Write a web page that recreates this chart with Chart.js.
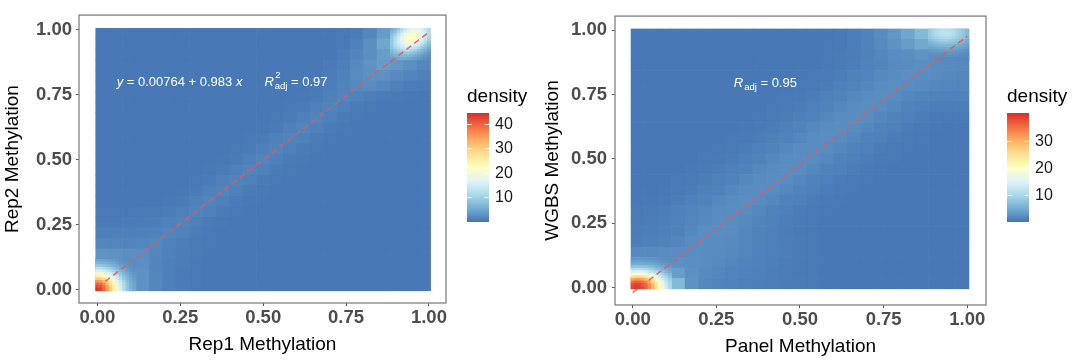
<!DOCTYPE html>
<html>
<head>
<meta charset="utf-8">
<script src="https://cdn.jsdelivr.net/npm/chart.js@4.4.1/dist/chart.umd.min.js"></script>
<style>
  body { margin: 0; background: #fff; }
  #wrap { display: flex; width: 1080px; height: 364px; }
  canvas { display: block; }
</style>
</head>
<body>
<div id="wrap">
  <canvas id="rep" width="540" height="364"></canvas>
  <canvas id="panel" width="540" height="364"></canvas>
</div>
<script>
// coarse grid: 25 x 25 bins covering -0.005 .. 1.005
const coarseStart = -0.005;
const coarseWidth = 0.0404;
// fine 12 x 12 grids for the two corners (1/4 of a coarse bin)
const fineWidth = 0.0101;
const lowCornerStart = -0.005;
const highCornerStart = 0.8838;

const axisTicks = [0, 0.25, 0.5, 0.75, 1];
const paletteStops = ['#4575b4', '#74add1', '#abd9e9', '#e0f3f8', '#ffffbf', '#fee090', '#fdae61', '#f46d43', '#d73027'];

// ---- Rep1 vs Rep2 ----
// rows listed top first (y ~ 1.00), columns left to right (x 0 -> 1)
const repDensity = [
  [0.3,0.3,0.3,0.3,0.3, 0.3,0.3,0.3,0.3,0.3, 0.3,0.3,0.3,0.3,0.3, 0.3,0.3,0.3,0.5,0.8, 1.8,3.8,8,15,15],
  [0.3,0.3,0.3,0.3,0.3, 0.3,0.3,0.3,0.3,0.3, 0.3,0.3,0.3,0.3,0.3, 0.3,0.3,0.3,0.6,1.2, 2.6,5.0,10,15,12],
  [0.3,0.3,0.3,0.3,0.3, 0.3,0.3,0.3,0.3,0.3, 0.3,0.3,0.3,0.3,0.3, 0.3,0.3,0.3,0.8,1.6, 2.6,4.0,10,10,6],
  [0.3,0.3,0.3,0.3,0.3, 0.3,0.3,0.3,0.3,0.3, 0.3,0.3,0.3,0.3,0.3, 0.3,0.3,0.6,1.0,2.0, 3.0,3.8,3.3,2.6,1.8],
  [0.3,0.3,0.3,0.3,0.3, 0.3,0.3,0.3,0.3,0.3, 0.3,0.3,0.3,0.3,0.3, 0.3,0.5,0.75,1.2,2.2, 2.8,2.8,2.1,1.6,1.2],
  [0.3,0.3,0.3,0.3,0.3, 0.3,0.3,0.3,0.3,0.3, 0.3,0.3,0.3,0.3,0.3, 0.4,0.6,0.9,1.5,2.0, 2.2,1.8,1.2,0.9,0.7],
  [0.3,0.3,0.3,0.3,0.3, 0.3,0.3,0.3,0.3,0.3, 0.3,0.3,0.3,0.3,0.35, 0.45,0.7,1.1,1.6,1.4, 1.0,0.7,0.55,0.45,0.4],
  [0.3,0.3,0.3,0.3,0.3, 0.3,0.3,0.3,0.3,0.3, 0.3,0.3,0.3,0.35,0.45, 0.7,1.1,1.5,1.1,0.7, 0.45,0.35,0.3,0.3,0.3],
  [0.3,0.3,0.3,0.3,0.3, 0.3,0.3,0.3,0.3,0.3, 0.3,0.3,0.35,0.45,0.7, 1.1,1.5,1.1,0.7,0.45, 0.35,0.3,0.3,0.3,0.3],
  [0.3,0.3,0.3,0.3,0.3, 0.3,0.3,0.3,0.3,0.3, 0.3,0.35,0.45,0.7,1.1, 1.5,1.1,0.7,0.45,0.35, 0.3,0.3,0.3,0.3,0.3],
  [0.3,0.3,0.3,0.3,0.3, 0.3,0.3,0.3,0.3,0.3, 0.35,0.45,0.7,1.1,1.5, 1.1,0.7,0.45,0.35,0.3, 0.3,0.3,0.3,0.3,0.3],
  [0.3,0.3,0.3,0.3,0.3, 0.3,0.3,0.3,0.3,0.35, 0.45,0.7,1.1,1.5,1.1, 0.7,0.45,0.35,0.3,0.3, 0.3,0.3,0.3,0.3,0.3],
  [0.3,0.3,0.3,0.3,0.3, 0.3,0.3,0.3,0.35,0.45, 0.7,1.1,1.5,1.1,0.7, 0.45,0.35,0.3,0.3,0.3, 0.3,0.3,0.3,0.3,0.3],
  [0.3,0.3,0.3,0.3,0.3, 0.3,0.3,0.35,0.45,0.7, 1.1,1.5,1.1,0.7,0.45, 0.35,0.3,0.3,0.3,0.3, 0.3,0.3,0.3,0.3,0.3],
  [0.3,0.3,0.3,0.3,0.3, 0.3,0.35,0.45,0.7,1.1, 1.5,1.1,0.7,0.45,0.35, 0.3,0.3,0.3,0.3,0.3, 0.3,0.3,0.3,0.3,0.3],
  [0.3,0.3,0.3,0.3,0.3, 0.35,0.45,0.7,1.1,1.5, 1.1,0.7,0.45,0.35,0.3, 0.3,0.3,0.3,0.3,0.3, 0.3,0.3,0.3,0.3,0.3],
  [0.3,0.3,0.3,0.3,0.35, 0.45,0.7,1.1,1.5,1.1, 0.7,0.45,0.35,0.3,0.3, 0.3,0.3,0.3,0.3,0.3, 0.3,0.3,0.3,0.3,0.3],
  [0.5,0.5,0.5,0.55,0.6, 0.75,1.1,1.5,1.1,0.7, 0.45,0.35,0.3,0.3,0.3, 0.3,0.3,0.3,0.3,0.3, 0.3,0.3,0.3,0.3,0.3],
  [0.7,0.7,0.75,0.8,0.9, 1.15,1.5,1.1,0.7,0.45, 0.35,0.3,0.3,0.3,0.3, 0.3,0.3,0.3,0.3,0.3, 0.3,0.3,0.3,0.3,0.3],
  [1.1,1.05,1.1,1.2,1.35, 1.6,1.15,0.75,0.5,0.35, 0.3,0.3,0.3,0.3,0.3, 0.3,0.3,0.3,0.3,0.3, 0.3,0.3,0.3,0.3,0.3],
  [1.8,1.7,1.6,1.7,1.9, 1.35,0.9,0.6,0.45,0.35, 0.3,0.3,0.3,0.3,0.3, 0.3,0.3,0.3,0.3,0.3, 0.3,0.3,0.3,0.3,0.3],
  [3.0,2.9,2.6,2.4,1.7, 1.2,0.8,0.55,0.4,0.35, 0.3,0.3,0.3,0.3,0.3, 0.3,0.3,0.3,0.3,0.3, 0.3,0.3,0.3,0.3,0.3],
  [3,3,3,2.6,1.6, 1.1,0.75,0.5,0.4,0.35, 0.3,0.3,0.3,0.3,0.3, 0.3,0.3,0.3,0.3,0.3, 0.3,0.3,0.3,0.3,0.3],
  [10,8,3,2.9,1.7, 1.05,0.7,0.5,0.4,0.35, 0.3,0.3,0.3,0.3,0.3, 0.3,0.3,0.3,0.3,0.3, 0.3,0.3,0.3,0.3,0.3],
  [40,10,3,3.0,1.8, 1.1,0.7,0.5,0.4,0.35, 0.3,0.3,0.3,0.3,0.3, 0.3,0.3,0.3,0.3,0.3, 0.3,0.3,0.3,0.3,0.3]
];
// fine corner near (0, 0), top row first
const repCornerLow = [
  [4.9,4.85,4.7,4.4,4.05,3.65,3.3,2.95,2.7,2.45,2.25,2.2],
  [6.5,6.4,6.2,5.8,5.3,4.7,4.1,3.55,3.1,2.75,2.45,2.25],
  [8.9,8.75,8.4,7.7,6.9,6.0,5.2,4.4,3.7,3.15,2.75,2.45],
  [12.2,12.0,11.4,10.4,9.1,7.9,6.5,5.5,4.5,3.7,3.1,2.7],
  [16,15.7,14.9,13.6,12.0,10.2,8.4,6.75,5.5,4.4,3.55,2.95],
  [20.2,19.9,18.9,17.2,15.2,12.9,10.6,8.4,6.5,5.2,4.1,3.3],
  [25,24.5,23.1,21.0,18.5,15.7,12.9,10.2,7.9,6.0,4.7,3.65],
  [29.8,29.2,27.5,25,21.8,18.5,15.2,12.0,9.1,6.9,5.3,4.05],
  [35.2,34.3,31.9,28.6,25,21.0,17.2,13.6,10.4,7.7,5.8,4.4],
  [39.6,38.5,36.0,31.9,27.5,23.1,18.9,14.9,11.4,8.4,6.2,4.7],
  [42.4,41.3,38.5,34.3,29.2,24.5,19.9,15.7,12.0,8.75,6.4,4.85],
  [44,42.4,39.6,35.2,29.8,25,20.2,16,12.2,8.9,6.5,4.9]
];
// fine corner near (1, 1), top row first
const repCornerHigh = [
  [5.4,7.1,9.1,11.7,14.0,16,17.2,17.6,17.1,15.9,13.9,11.5],
  [6.5,8.6,11.2,14.0,16.5,18.5,19.7,19.8,18.9,17.1,14.8,12.1],
  [7.6,10.05,13.0,16,18.5,20.5,21.6,21.5,19.8,17.6,15.0,12.0],
  [8.5,11.3,14.3,17.2,19.7,21.6,22,21.6,19.7,17.2,14.3,11.3],
  [9.0,12.0,15.0,17.6,19.8,21.5,21.6,20.5,18.5,16,13.0,10.05],
  [9.2,12.1,14.8,17.1,18.9,19.8,19.7,18.5,16.5,14.0,11.2,8.6],
  [8.95,11.5,13.9,15.9,17.1,17.6,17.2,16,14.0,11.7,9.1,7.1],
  [8.4,10.4,12.4,13.9,14.8,15.0,14.3,13.0,11.2,9.1,7.35,5.7],
  [7.5,8.9,10.4,11.5,12.1,12.0,11.3,10.05,8.6,7.1,5.7,4.4],
  [6.4,7.5,8.4,8.95,9.2,9.0,8.5,7.6,6.5,5.4,4.3,3.5],
  [5.3,6.1,6.6,7.0,7.1,6.85,6.3,5.7,4.8,4.05,3.3,2.8],
  [4.2,4.7,5.1,5.3,5.3,5.1,4.6,4.1,3.6,3.1,2.7,2.3]
];
const repFit = [{ x: 0, y: 0.00764 }, { x: 1, y: 0.9906 }];
const repLegendTicks = [10, 20, 30, 40];
const repDensityMax = 44.3;

// ---- Panel vs WGBS ----
const panelDensity = [
  [0.35,0.35,0.35,0.35,0.35, 0.35,0.35,0.35,0.35,0.35, 0.35,0.35,0.35,0.35,0.35, 0.5,0.8,1.3,2.0,3.0, 4.4,6.5,9,10.5,9],
  [0.35,0.35,0.35,0.35,0.35, 0.35,0.35,0.35,0.35,0.35, 0.35,0.35,0.35,0.35,0.45, 0.55,0.8,1.2,1.8,2.6, 3.5,4.8,6.5,7,6.5],
  [0.35,0.35,0.35,0.35,0.35, 0.35,0.35,0.35,0.35,0.35, 0.35,0.35,0.35,0.35,0.45, 0.6,0.75,1.1,1.6,2.0, 2.3,2.7,3,3,2.8],
  [0.35,0.35,0.35,0.35,0.35, 0.35,0.35,0.35,0.35,0.35, 0.35,0.35,0.35,0.35,0.45, 0.6,0.85,1.15,1.5,1.9, 2.1,2.3,2.1,1.9,1.8],
  [0.35,0.35,0.35,0.35,0.35, 0.35,0.35,0.35,0.35,0.35, 0.35,0.35,0.35,0.45,0.55, 0.8,1.05,1.4,1.8,2.1, 2.3,2.2,2.0,1.8,1.6],
  [0.35,0.35,0.35,0.35,0.35, 0.35,0.35,0.35,0.35,0.35, 0.35,0.35,0.45,0.55,0.75, 1.0,1.35,1.75,2.05,2.25, 2.1,1.9,1.7,1.6,1.5],
  [0.35,0.35,0.35,0.35,0.35, 0.35,0.35,0.35,0.35,0.35, 0.35,0.45,0.55,0.75,1.0, 1.3,1.7,2.0,2.2,2.0, 1.75,1.45,1.25,1.15,1.1],
  [0.35,0.35,0.35,0.35,0.35, 0.35,0.35,0.35,0.35,0.35, 0.45,0.55,0.75,1.0,1.3, 1.7,2.0,2.2,2.0,1.7, 1.3,1.0,0.85,0.8,0.8],
  [0.35,0.35,0.35,0.35,0.35, 0.35,0.35,0.35,0.35,0.45, 0.55,0.75,1.0,1.3,1.7, 2.0,2.2,2.0,1.7,1.3, 1.0,0.75,0.55,0.45,0.45],
  [0.35,0.35,0.35,0.35,0.35, 0.35,0.35,0.35,0.45,0.55, 0.75,1.0,1.3,1.7,2.0, 2.2,2.0,1.7,1.3,1.0, 0.75,0.55,0.45,0.35,0.35],
  [0.35,0.35,0.35,0.35,0.35, 0.35,0.35,0.45,0.55,0.75, 1.0,1.3,1.7,2.0,2.2, 2.0,1.7,1.3,1.0,0.75, 0.55,0.45,0.35,0.35,0.35],
  [0.35,0.35,0.35,0.35,0.35, 0.35,0.45,0.55,0.75,1.0, 1.3,1.7,2.0,2.2,2.0, 1.7,1.3,1.0,0.75,0.55, 0.45,0.35,0.35,0.35,0.35],
  [0.35,0.35,0.35,0.35,0.35, 0.45,0.55,0.75,1.0,1.3, 1.7,2.0,2.2,2.0,1.7, 1.3,1.0,0.75,0.55,0.45, 0.35,0.35,0.35,0.35,0.35],
  [0.35,0.35,0.35,0.35,0.45, 0.55,0.75,1.0,1.3,1.7, 2.0,2.2,2.0,1.7,1.3, 1.0,0.75,0.55,0.45,0.35, 0.35,0.35,0.35,0.35,0.35],
  [0.35,0.35,0.35,0.45,0.55, 0.75,1.0,1.3,1.7,2.0, 2.2,2.0,1.7,1.3,1.0, 0.75,0.55,0.45,0.35,0.35, 0.35,0.35,0.35,0.35,0.35],
  [0.35,0.35,0.45,0.55,0.75, 1.0,1.3,1.7,2.0,2.2, 2.0,1.7,1.3,1.0,0.75, 0.55,0.45,0.35,0.35,0.35, 0.35,0.35,0.35,0.35,0.35],
  [0.35,0.45,0.55,0.75,1.0, 1.3,1.7,2.0,2.2,2.0, 1.7,1.3,1.0,0.75,0.55, 0.45,0.35,0.35,0.35,0.35, 0.35,0.35,0.35,0.35,0.35],
  [0.5,0.6,0.8,1.05,1.35, 1.7,2.0,2.2,2.0,1.7, 1.3,1.0,0.75,0.55,0.45, 0.35,0.35,0.35,0.35,0.35, 0.35,0.35,0.35,0.35,0.35],
  [0.6,0.7,0.9,1.2,1.5, 1.8,2.2,2.1,1.8,1.4, 1.1,0.8,0.6,0.45,0.35, 0.35,0.35,0.35,0.35,0.35, 0.35,0.35,0.35,0.35,0.35],
  [0.7,0.8,1.0,1.3,1.7, 2.2,2.2,2.0,1.6,1.3, 1.0,0.75,0.55,0.45,0.35, 0.35,0.35,0.35,0.35,0.35, 0.35,0.35,0.35,0.35,0.35],
  [0.8,1.0,1.3,1.6,2.0, 2.2,2.1,1.9,1.6,1.3, 1.0,0.8,0.6,0.45,0.35, 0.35,0.35,0.35,0.35,0.35, 0.35,0.35,0.35,0.35,0.35],
  [1.8,1.9,2.0,2.2,2.2, 2.1,2.0,1.8,1.5,1.2, 1.0,0.8,0.6,0.45,0.35, 0.35,0.35,0.35,0.35,0.35, 0.35,0.35,0.35,0.35,0.35],
  [4.5,4.5,3.8,2.4,2.3, 2.2,1.9,1.6,1.4,1.1, 0.9,0.7,0.55,0.45,0.35, 0.35,0.35,0.35,0.35,0.35, 0.35,0.35,0.35,0.35,0.35],
  [15,12,7.5,3.6,2.4, 1.9,1.6,1.4,1.2,1.0, 0.85,0.7,0.55,0.45,0.35, 0.35,0.35,0.35,0.35,0.35, 0.35,0.35,0.35,0.35,0.35],
  [36,27,12,6.5,2.6, 1.7,1.4,1.2,1.0,0.9, 0.8,0.65,0.5,0.45,0.35, 0.35,0.35,0.35,0.35,0.35, 0.35,0.35,0.35,0.35,0.35]
];
const panelCornerLow = [
  [2.9,2.95,2.95,2.9,2.8,2.7,2.6,2.5,2.4,2.3,2.2,2.2],
  [3.8,3.85,3.85,3.8,3.65,3.5,3.35,3.15,2.9,2.65,2.5,2.35],
  [5.1,5.2,5.2,5.1,4.9,4.7,4.4,4.05,3.65,3.35,3.05,2.7],
  [7.3,7.5,7.5,7.3,7.05,6.6,6.05,5.4,4.8,4.3,3.75,3.3],
  [10.4,10.65,10.65,10.4,9.95,9.25,8.4,7.4,6.5,5.55,4.75,4.1],
  [14.6,15.0,15.0,14.6,13.85,12.7,11.3,10.0,8.65,7.3,6.15,4.95],
  [19.7,20.3,20.3,19.7,18.6,17.0,15.15,13.2,11.05,9.4,7.7,6.3],
  [25.5,26.3,26.3,25.5,23.9,21.7,19.4,16.7,14.1,11.55,9.5,7.5],
  [31.2,32.2,32.2,31.2,29.4,26.7,23.4,20.1,16.8,13.9,11.0,8.9],
  [35.6,36.5,36.5,35.6,33.6,30.6,27.0,22.9,19.2,15.6,12.55,9.9],
  [37.9,38.9,38.9,37.9,35.9,32.9,29.2,24.7,20.6,16.7,13.45,10.4],
  [38.5,39.4,39.4,38.5,36.3,33.4,29.5,25.1,20.8,17.0,13.6,10.5]
];
const panelCornerHigh = [
  [8.6,9.6,10.5,11.1,11.5,11.5,11.2,10.6,9.7,8.7,7.6,6.5],
  [8.8,9.85,10.8,11.5,11.85,11.9,11.6,10.85,10.0,8.9,7.8,6.7],
  [8.6,9.6,10.5,11.1,11.5,11.5,11.2,10.6,9.7,8.7,7.6,6.5],
  [7.9,8.85,9.6,10.2,10.55,10.55,10.25,9.7,8.9,8.0,7.0,6.1],
  [7.0,7.7,8.4,8.9,9.15,9.2,8.9,8.45,7.8,7.0,6.2,5.45],
  [5.9,6.5,7.0,7.4,7.6,7.6,7.4,7.0,6.55,5.95,5.35,4.7],
  [4.85,5.3,5.7,5.95,6.1,6.1,5.95,5.7,5.35,4.9,4.35,3.9],
  [3.9,4.25,4.5,4.7,4.8,4.8,4.7,4.5,4.25,3.95,3.6,3.25],
  [3.1,3.35,3.5,3.6,3.7,3.7,3.6,3.5,3.35,3.15,2.9,2.65],
  [2.5,2.65,2.8,2.85,2.9,2.9,2.85,2.8,2.7,2.55,2.35,2.2],
  [2.2,2.3,2.3,2.25,2.3,2.3,2.25,2.2,2.15,2.05,1.95,1.85],
  [2.3,2.2,1.9,1.85,1.85,1.85,1.85,1.85,1.8,1.75,1.7,1.6]
];
const panelFit = [{ x: 0, y: -0.02 }, { x: 1, y: 0.977 }];
const panelLegendTicks = [10, 20, 30];
const panelDensityMax = 40.5;

const fontFamily = '"Liberation Sans", Arial, sans-serif';

function hexToRgb(h) {
  return [parseInt(h.slice(1, 3), 16), parseInt(h.slice(3, 5), 16), parseInt(h.slice(5, 7), 16)];
}

// RdYlBu (reversed) lookup for a density value
function densityColor(v, max) {
  const t = Math.max(0, Math.min(1, v / max)) * (paletteStops.length - 1);
  const k = Math.min(Math.floor(t), paletteStops.length - 2);
  const f = t - k;
  const a = hexToRgb(paletteStops[k]);
  const b = hexToRgb(paletteStops[k + 1]);
  const c = a.map((av, i) => Math.round(av + (b[i] - av) * f));
  return `rgb(${c[0]},${c[1]},${c[2]})`;
}

// turn a grid (top row first) into floating bars, one bar per cell
function cellsFrom(grid, start, w) {
  const n = grid.length;
  const cells = [];
  grid.forEach((row, r) => {
    const j = n - 1 - r;
    row.forEach((v, i) => {
      const x0 = start + i * w;
      const y0 = start + j * w;
      cells.push({ x: x0 + w / 2, y: [y0, y0 + w], v: v });
    });
  });
  return cells;
}

// one bar dataset per grid; each bar is exactly one bin wide.
// lower `order` is painted on top, so corners use a lower order than the coarse grid
function gridDataset(grid, start, w, max, order) {
  return {
    type: 'bar',
    data: cellsFrom(grid, start, w),
    binWidth: w,
    grouped: false,
    backgroundColor: c => densityColor(c.raw ? c.raw.v : 0, max),
    barThickness: c => {
      const s = c.chart.scales.x;
      return Math.abs(s.getPixelForValue(c.dataset.binWidth) - s.getPixelForValue(0));
    },
    borderWidth: 0,
    borderSkipped: false,
    barPercentage: 1,
    categoryPercentage: 1,
    order: order
  };
}

// draws text pieces with italic / super / subscript parts
function drawRich(ctx, x, y, parts) {
  let cx = x;
  ctx.fillStyle = '#ffffff';
  ctx.textAlign = 'left';
  ctx.textBaseline = 'alphabetic';
  parts.forEach(p => {
    if (p.gap) { cx += p.gap; return; }
    if (p.sup !== undefined || p.sub !== undefined) {
      ctx.font = `9.5px ${fontFamily}`;
      let w = 0;
      if (p.sup) { ctx.fillText(p.sup, cx + 1.5, y - 8); w = ctx.measureText(p.sup).width + 1.5; }
      if (p.sub) { ctx.fillText(p.sub, cx + 1, y + 3); w = Math.max(w, ctx.measureText(p.sub).width + 1); }
      cx += w;
      return;
    }
    ctx.font = `${p.italic ? 'italic ' : ''}13px ${fontFamily}`;
    ctx.fillText(p.t, cx, y);
    cx += ctx.measureText(p.t).width;
  });
}

function makeChart(id, cfg) {
  const frame = {
    id: 'frame',
    afterDraw(chart) {
      const { ctx, chartArea: a } = chart;
      ctx.save();
      ctx.strokeStyle = '#808080';
      ctx.lineWidth = 1.3;
      ctx.strokeRect(a.left, a.top, a.right - a.left, a.bottom - a.top);
      ctx.restore();
    }
  };

  const note = {
    id: 'note',
    afterDatasetsDraw(chart) {
      const { ctx, scales } = chart;
      ctx.save();
      const px = scales.x.getPixelForValue(cfg.noteAt.x);
      const py = scales.y.getPixelForValue(cfg.noteAt.y) + 4.5;
      drawRich(ctx, px, py, cfg.note);
      ctx.restore();
    }
  };

  const colorbar = {
    id: 'colorbar',
    afterDraw(chart) {
      const ctx = chart.ctx;
      const bx = 467, bw = 22, by = 113, bh = 109;
      ctx.save();
      const g = ctx.createLinearGradient(0, by + bh, 0, by);
      paletteStops.forEach((c, k) => g.addColorStop(k / (paletteStops.length - 1), c));
      ctx.fillStyle = g;
      ctx.fillRect(bx, by, bw, bh);
      ctx.strokeStyle = 'rgba(255,255,255,0.85)';
      ctx.lineWidth = 1;
      ctx.fillStyle = '#1a1a1a';
      ctx.font = `16px ${fontFamily}`;
      ctx.textAlign = 'left';
      ctx.textBaseline = 'middle';
      cfg.legendTicks.forEach(t => {
        const ty = Math.round(by + bh - (t / cfg.densityMax) * bh) + 0.5;
        ctx.beginPath();
        ctx.moveTo(bx, ty); ctx.lineTo(bx + 4.5, ty);
        ctx.moveTo(bx + bw - 4.5, ty); ctx.lineTo(bx + bw, ty);
        ctx.stroke();
        ctx.fillText(String(t), bx + bw + 6, ty);
      });
      ctx.font = `19px ${fontFamily}`;
      ctx.textBaseline = 'alphabetic';
      ctx.fillStyle = '#000';
      ctx.fillText('density', bx, 102);
      ctx.restore();
    }
  };

  return new Chart(document.getElementById(id), {
    type: 'bar',
    data: {
      datasets: [
        gridDataset(cfg.grid, coarseStart, coarseWidth, cfg.densityMax, 3),
        gridDataset(cfg.cornerLow, lowCornerStart, fineWidth, cfg.densityMax, 2),
        gridDataset(cfg.cornerHigh, highCornerStart, fineWidth, cfg.densityMax, 2),
        {
          type: 'line',
          data: cfg.fit,
          borderColor: 'rgba(232,86,86,0.9)',
          borderWidth: 1.5,
          borderDash: [6, 4],
          pointRadius: 0,
          fill: false,
          tension: 0,
          order: 1
        }
      ]
    },
    options: {
      responsive: false,
      animation: false,
      layout: { padding: { left: 0, top: cfg.top, right: 94, bottom: 0 } },
      plugins: { legend: { display: false }, tooltip: { enabled: false } },
      scales: {
        x: {
          type: 'linear',
          min: cfg.xRange[0],
          max: cfg.xRange[1],
          offset: false,
          afterBuildTicks: s => { s.ticks = axisTicks.map(v => ({ value: v })); },
          afterFit: s => { s.height = cfg.xAxisHeight; },
          grid: { drawOnChartArea: false, offset: false, tickLength: 3, color: '#555' },
          border: { display: false },
          ticks: {
            autoSkip: false, maxRotation: 0, padding: 1,
            color: '#4d4d4d',
            font: { family: fontFamily, size: 18.5, weight: 'bold' },
            callback: v => Number(v).toFixed(2)
          },
          title: {
            display: true, text: cfg.xTitle, color: '#000',
            font: { family: fontFamily, size: 19 },
            padding: { top: 0, bottom: cfg.xTitlePad }
          }
        },
        y: {
          type: 'linear',
          min: cfg.yRange[0],
          max: cfg.yRange[1],
          afterBuildTicks: s => { s.ticks = axisTicks.map(v => ({ value: v })); },
          afterFit: s => { s.width = cfg.yAxisWidth; },
          grid: { drawOnChartArea: false, tickLength: 3, color: '#555' },
          border: { display: false },
          ticks: {
            autoSkip: false, padding: cfg.yTickPad,
            color: '#4d4d4d',
            font: { family: fontFamily, size: 18.5, weight: 'bold' },
            callback: v => Number(v).toFixed(2)
          },
          title: {
            display: true, text: cfg.yTitle, color: '#000',
            font: { family: fontFamily, size: 19 },
            padding: { top: 1.5, bottom: 0 }
          }
        }
      }
    },
    plugins: [note, frame, colorbar]
  });
}

makeChart('rep', {
  grid: repDensity,
  cornerLow: repCornerLow,
  cornerHigh: repCornerHigh,
  fit: repFit,
  legendTicks: repLegendTicks,
  densityMax: repDensityMax,
  xRange: [-0.0555, 1.0515],
  yRange: [-0.052, 1.056],
  top: 6,
  xAxisHeight: 61,
  yAxisWidth: 79,
  yTickPad: 4,
  xTitlePad: 8,
  xTitle: 'Rep1 Methylation',
  yTitle: 'Rep2 Methylation',
  noteAt: { x: 0.058, y: 0.8 },
  note: [
    { t: 'y', italic: true }, { t: ' = 0.00764 + 0.983 ' }, { t: 'x', italic: true },
    { gap: 22 },
    { t: 'R', italic: true }, { sup: '2', sub: 'adj' }, { t: ' = 0.97' }
  ]
});

makeChart('panel', {
  grid: panelDensity,
  cornerLow: panelCornerLow,
  cornerHigh: panelCornerHigh,
  fit: panelFit,
  legendTicks: panelLegendTicks,
  densityMax: panelDensityMax,
  xRange: [-0.053, 1.056],
  yRange: [-0.068, 1.055],
  top: 5,
  xAxisHeight: 59,
  yAxisWidth: 75,
  yTickPad: 5,
  xTitlePad: 6,
  xTitle: 'Panel Methylation',
  yTitle: 'WGBS Methylation',
  noteAt: { x: 0.302, y: 0.795 },
  note: [
    { t: 'R', italic: true }, { sub: 'adj' }, { t: ' = 0.95' }
  ]
});
</script>
</body>
</html>
